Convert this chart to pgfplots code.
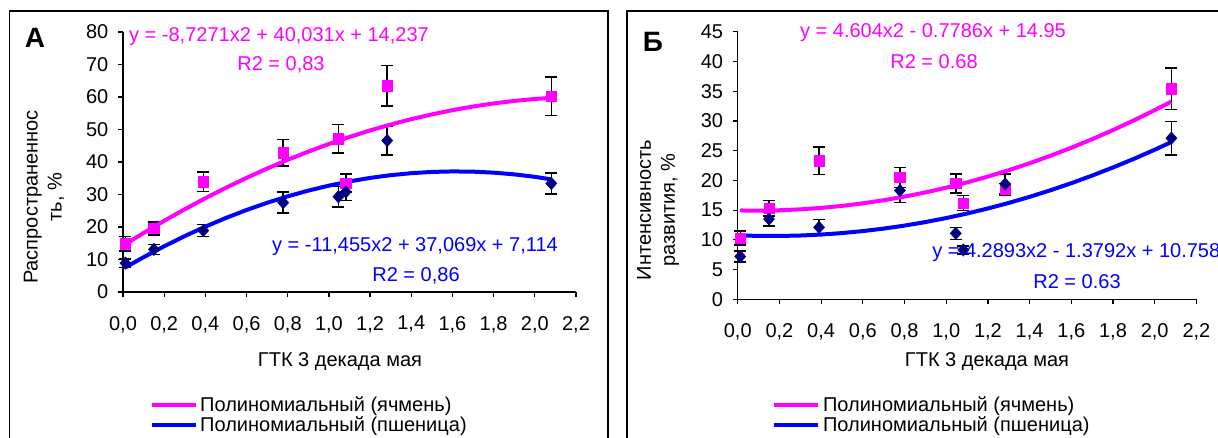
\documentclass[border=0pt]{standalone}
\usepackage{fontspec}
\setmainfont{Liberation Sans}
\usepackage{pgfplots}
\pgfplotsset{compat=1.18}
\definecolor{mag}{HTML}{FF00FF}
\definecolor{blu}{HTML}{0000FF}
\definecolor{navy}{HTML}{000080}
\newcommand\fs{\fontsize{15}{18}\selectfont}
\pgfplotsset{
  excel/.style={
    scale only axis,
    axis lines=left,
    axis line style={-, black, line width=0.9pt},
    tick align=outside,
    major tick length=3.5pt,
    tick style={black, line width=0.9pt},
    xmin=0, xmax=2.2,
    xtick={0,0.2,0.4,0.6,0.8,1.0,1.2,1.4,1.6,1.8,2.0,2.2},
    xticklabel={\pgfmathprintnumber[fixed,fixed zerofill,precision=1,use comma,assume math mode=true]{\tick}},
    yticklabel={\pgfmathprintnumber[assume math mode=true]{\tick}},
    ymin=0,
    clip=false,
    tick label style={font=\fs},
    xticklabel style={yshift=-11pt},
    yticklabel style={xshift=-4pt},
    legend style={draw=none, fill=none, font=\fs, row sep=-1.5pt, inner sep=0pt, nodes={inner sep=2pt}},
    legend cell align=left,
    legend image code/.code={\draw[##1, line width=3pt] (0pt,0pt) -- (33pt,0pt);},
  },
  ebars/.style={only marks, mark=none, forget plot,
    error bars/.cd, y dir=both, y explicit,
    error bar style={black, line width=1.1pt},
    error mark options={black, mark size=4.5pt, line width=1.1pt, rotate=90}},
  sq/.style={only marks, mark=square*, mark size=3.9pt, mark options={fill=mag, draw=mag}, forget plot},
  dm/.style={only marks, mark=diamond*, mark size=4.6pt, mark options={fill=navy, draw=navy, xscale=1.2}, forget plot},
}
\begin{document}
\begin{tikzpicture}[x=0.75pt,y=0.75pt]
\useasboundingbox (0,0) rectangle (1218,438);
\begin{scope}
\clip (0,0) rectangle (1218,438);
\draw[line width=1.4pt] (9.5,-20) -- (9.5,427) -- (608,427) -- (608,-20);
\draw[line width=1.4pt] (627,-20) -- (627,427) -- (1240,427);
\end{scope}

% ---------- Panel A ----------
\begin{axis}[excel, at={(92.25pt,109.5pt)}, anchor=south west,
  width=339.75pt, height=195pt, ymax=80, ytick={0,10,20,30,40,50,60,70,80},
  legend style={at={(axis description cs:0.058,-0.39)}, anchor=north west}]
\addplot[ebars] coordinates {
 (0.012,14.8) +- (0,2.2) (0.15,19.6) +- (0,2.0) (0.39,33.9) +- (0,3.0) (0.778,42.9) +- (0,4.1)
 (1.046,47.1) +- (0,4.4) (1.082,33.5) +- (0,2.8) (1.283,63.5) +- (0,6.2) (2.08,60.2) +- (0,5.9)};
\addplot[ebars] coordinates {
 (0.012,8.9) +- (0,1.3) (0.15,13.1) +- (0,1.5) (0.39,18.9) +- (0,1.8) (0.778,27.5) +- (0,3.2)
 (1.046,29.3) +- (0,3.1) (1.082,30.8) +- (0,2.6) (1.283,46.6) +- (0,4.4) (2.08,33.4) +- (0,3.2)};
\addplot[mag, line width=3pt] coordinates {
 (0.012,14.716) (0.1,18.153) (0.2,21.894) (0.3,25.461) (0.4,28.853) (0.5,32.071) (0.6,35.114)
 (0.7,37.982) (0.8,40.677) (0.9,43.196) (1.0,45.541) (1.1,47.711) (1.2,49.707) (1.3,51.529)
 (1.4,53.175) (1.5,54.648) (1.6,55.945) (1.7,57.068) (1.8,58.017) (1.9,58.791) (2.0,59.391) (2.08,59.744)};
\addlegendentry{Полиномиальный (ячмень)}
\addplot[blu, line width=3pt] coordinates {
 (0.012,7.557) (0.1,10.706) (0.2,14.070) (0.3,17.204) (0.4,20.109) (0.5,22.785) (0.6,25.232)
 (0.7,27.449) (0.8,29.438) (0.9,31.198) (1.0,32.728) (1.1,34.029) (1.2,35.102) (1.3,35.945)
 (1.4,36.559) (1.5,36.944) (1.6,37.100) (1.7,37.026) (1.8,36.724) (1.9,36.193) (2.0,35.432) (2.08,34.659)};
\addlegendentry{Полиномиальный (пшеница)}
\addplot[sq] coordinates {
 (0.012,14.8) (0.15,19.6) (0.39,33.9) (0.778,42.9) (1.046,47.1) (1.082,33.5) (1.283,63.5) (2.08,60.2)};
\addplot[dm] coordinates {
 (0.012,8.9) (0.15,13.1) (0.39,18.9) (0.778,27.5) (1.046,29.3) (1.082,30.8) (1.283,46.6) (2.08,33.4)};
\end{axis}

% ---------- Panel B ----------
\begin{axis}[excel, at={(553.3pt,104.0pt)}, anchor=south west,
  width=344pt, height=200.7pt, ymax=45, ytick={0,5,10,15,20,25,30,35,40,45},
  legend style={at={(axis description cs:0.075,-0.352)}, anchor=north west}]
\addplot[ebars] coordinates {
 (0.012,10.3) +- (0,1.2) (0.15,15.3) +- (0,1.3) (0.39,23.3) +- (0,2.3) (0.778,20.5) +- (0,1.7)
 (1.046,19.5) +- (0,1.6) (1.082,16.2) +- (0,1.3) (1.283,18.5) +- (0,1.0) (2.08,35.4) +- (0,3.5)};
\addplot[ebars] coordinates {
 (0.012,7.2) +- (0,0.9) (0.15,13.5) +- (0,1.2) (0.39,12.1) +- (0,1.3) (0.778,18.3) +- (0,2.0)
 (1.046,11.1) +- (0,1.0) (1.082,8.3) +- (0,0.7) (1.283,19.4) +- (0,1.7) (2.08,27.1) +- (0,2.8)};
\addplot[mag, line width=3pt] coordinates {
 (0.012,14.941) (0.1,14.918) (0.2,14.979) (0.3,15.131) (0.4,15.375) (0.5,15.712) (0.6,16.140)
 (0.7,16.661) (0.8,17.274) (0.9,17.979) (1.0,18.775) (1.1,19.664) (1.2,20.646) (1.3,21.719)
 (1.4,22.884) (1.5,24.141) (1.6,25.490) (1.7,26.932) (1.8,28.466) (1.9,30.091) (2.0,31.809) (2.08,33.249)};
\addlegendentry{Полиномиальный (ячмень)}
\addplot[blu, line width=3pt] coordinates {
 (0.012,10.742) (0.1,10.663) (0.2,10.654) (0.3,10.730) (0.4,10.893) (0.5,11.141) (0.6,11.475)
 (0.7,11.894) (0.8,12.400) (0.9,12.991) (1.0,13.668) (1.1,14.431) (1.2,15.280) (1.3,16.214)
 (1.4,17.234) (1.5,18.340) (1.6,19.532) (1.7,20.810) (1.8,22.173) (1.9,23.622) (2.0,25.157) (2.08,26.447)};
\addlegendentry{Полиномиальный (пшеница)}
\addplot[sq] coordinates {
 (0.012,10.3) (0.15,15.3) (0.39,23.3) (0.778,20.5) (1.046,19.5) (1.082,16.2) (1.283,18.5) (2.08,35.4)};
\addplot[dm] coordinates {
 (0.012,7.2) (0.15,13.5) (0.39,12.1) (0.778,18.3) (1.046,11.1) (1.082,8.3) (1.283,19.4) (2.08,27.1)};
\end{axis}

% ---------- Texts ----------
\node[font=\fontsize{21}{24}\selectfont\bfseries] at (35,400) {А};
\node[font=\fontsize{21}{24}\selectfont\bfseries] at (653,396) {Б};
\node[font=\fs, rotate=90, align=center] at (44,241) {Распространеннос\\ть, \%};
\node[font=\fs, rotate=90, align=center] at (658,228) {Интенсивность\\развития, \%};
\node[font=\fs] at (340,76) {ГТК 3 декада мая};
\node[font=\fs] at (987,76) {ГТК 3 декада мая};
\node[font=\fs, text=mag] at (279,401) {y = -8,7271x2 + 40,031x + 14,237};
\node[font=\fs, text=mag] at (281,373) {R2 = 0,83};
\node[font=\fs, text=blu] at (415,191) {y = -11,455x2 + 37,069x + 7,114};
\node[font=\fs, text=blu] at (416,162) {R2 = 0,86};
\node[font=\fs, text=mag] at (933,405) {y = 4.604x2 - 0.7786x + 14.95};
\node[font=\fs, text=mag] at (934,376) {R2 = 0.68};
\node[font=\fs, text=blu, anchor=west, inner sep=0pt] at (932,185) {y = 4.2893x2 - 1.3792x + 10.758};
\node[font=\fs, text=blu] at (1077,156) {R2 = 0.63};
\end{tikzpicture}
\end{document}
